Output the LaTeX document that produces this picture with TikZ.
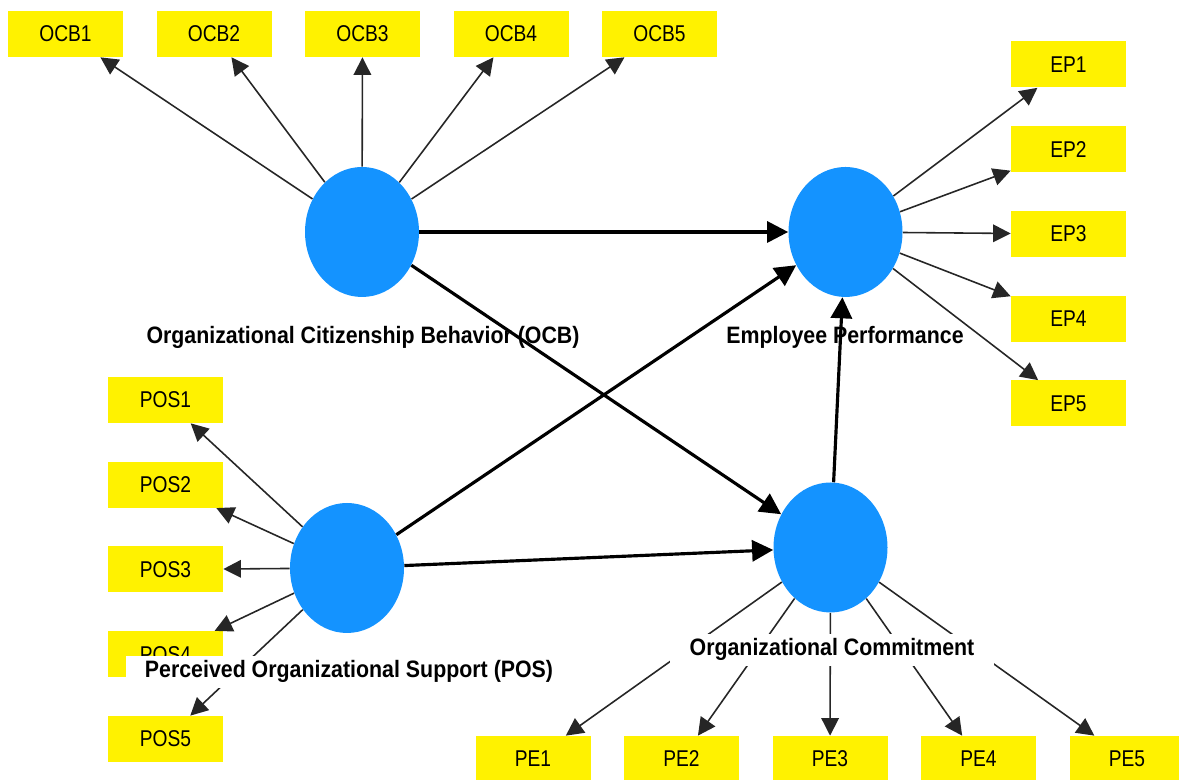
\documentclass[tikz,border=0pt]{standalone}
\usepackage{fontspec}
\setmainfont{Liberation Sans}
\newfontfamily\boxfont[FakeStretch=0.84]{Liberation Sans}
\newfontfamily\latentfont[FakeStretch=0.9]{Liberation Sans}
\usetikzlibrary{shapes.geometric, arrows.meta}
\definecolor{latentblue}{RGB}{20,147,255}

\begin{document}
\begin{tikzpicture}[node distance=1.695cm]
    \tikzstyle{indicator} = [rectangle, minimum width=2.3cm, minimum height=0.92cm, inner sep=0pt, fill=yellow, text centered, font=\boxfont\fontsize{13}{15}\selectfont]
    \tikzstyle{latent} = [ellipse, minimum width=2.28cm, minimum height=2.6cm, inner sep=0pt, fill=latentblue]
    \tikzstyle{latentlabel} = [anchor=base, inner sep=0pt, font=\latentfont\bfseries\fontsize{13.5}{16}\selectfont]
    \tikzstyle{latentlabelbg} = [anchor=base, fill=white, inner xsep=11pt, inner ysep=3pt, font=\latentfont\bfseries\fontsize{13.5}{16}\selectfont]
    \tikzstyle{loading} = [draw=black!85, line width=0.9pt, -{Triangle[length=10pt, width=10pt]}]
    \tikzstyle{effect} = [draw=black, line width=1.8pt, -{Triangle[length=12pt, width=12pt]}]

    \useasboundingbox (0,0) rectangle (23.58,15.6);

    % Latent variables
    \node [latent] (ocb) at (7.24,10.96) {};
    \node [latent] (ep) at (16.91,10.96) {};
    \node [latent] (pos) at (6.94,4.24) {};
    \node [latent] (oc) at (16.61,4.65) {};

    % OCB indicators
    \node [indicator] (ocb1) at (1.31,14.92) {OCB1};
    \node [indicator, right of=ocb1, node distance=2.97cm] (ocb2) {OCB2};
    \node [indicator, right of=ocb2, node distance=2.97cm] (ocb3) {OCB3};
    \node [indicator, right of=ocb3, node distance=2.97cm] (ocb4) {OCB4};
    \node [indicator, right of=ocb4, node distance=2.97cm] (ocb5) {OCB5};

    % EP indicators
    \node [indicator] (ep1) at (21.37,14.31) {EP1};
    \node [indicator, below of=ep1] (ep2) {EP2};
    \node [indicator, below of=ep2] (ep3) {EP3};
    \node [indicator, below of=ep3] (ep4) {EP4};
    \node [indicator, below of=ep4] (ep5) {EP5};

    % POS indicators
    \node [indicator] (pos1) at (3.31,7.6) {POS1};
    \node [indicator, below of=pos1] (pos2) {POS2};
    \node [indicator, below of=pos2] (pos3) {POS3};
    \node [indicator, below of=pos3] (pos4) {POS4};
    \node [indicator, below of=pos4] (pos5) {POS5};

    % OC indicators
    \node [indicator] (pe1) at (10.66,0.42) {PE1};
    \node [indicator, right of=pe1, node distance=2.97cm] (pe2) {PE2};
    \node [indicator, right of=pe2, node distance=2.97cm] (pe3) {PE3};
    \node [indicator, right of=pe3, node distance=2.97cm] (pe4) {PE4};
    \node [indicator, right of=pe4, node distance=2.97cm] (pe5) {PE5};

    % Outer loadings
    \draw [loading] (ocb) -- (ocb1);
    \draw [loading] (ocb) -- (ocb2);
    \draw [loading] (ocb) -- (ocb3);
    \draw [loading] (ocb) -- (ocb4);
    \draw [loading] (ocb) -- (ocb5);

    \draw [loading] (ep) -- (ep1);
    \draw [loading] (ep) -- (ep2);
    \draw [loading] (ep) -- (ep3);
    \draw [loading] (ep) -- (ep4);
    \draw [loading] (ep) -- (ep5);

    \draw [loading] (pos) -- (pos1);
    \draw [loading] (pos) -- (pos2);
    \draw [loading] (pos) -- (pos3);
    \draw [loading] (pos) -- (pos4);
    \draw [loading] (pos) -- (pos5);

    \draw [loading] (oc) -- (pe1);
    \draw [loading] (oc) -- (pe2);
    \draw [loading] (oc) -- (pe3);
    \draw [loading] (oc) -- (pe4);
    \draw [loading] (oc) -- (pe5);

    % Structural paths
    \draw [effect] (ocb) -- (ep);
    \draw [effect] (ocb) -- (oc);
    \draw [effect] (pos) -- (ep);
    \draw [effect] (pos) -- (oc);
    \draw [effect] (oc) -- (ep);

    % Labels
    \node [latentlabel] (ocblabel) at (7.26,8.72) {Organizational Citizenship Behavior (OCB)};
    \node [latentlabel] (eplabel) at (16.9,8.72) {Employee Performance};
    \node [latentlabelbg] (poslabel) at (6.98,2.04) {Perceived Organizational Support (POS)};
    \node [latentlabelbg] (oclabel) at (16.64,2.48) {Organizational Commitment};
\end{tikzpicture}
\end{document}
